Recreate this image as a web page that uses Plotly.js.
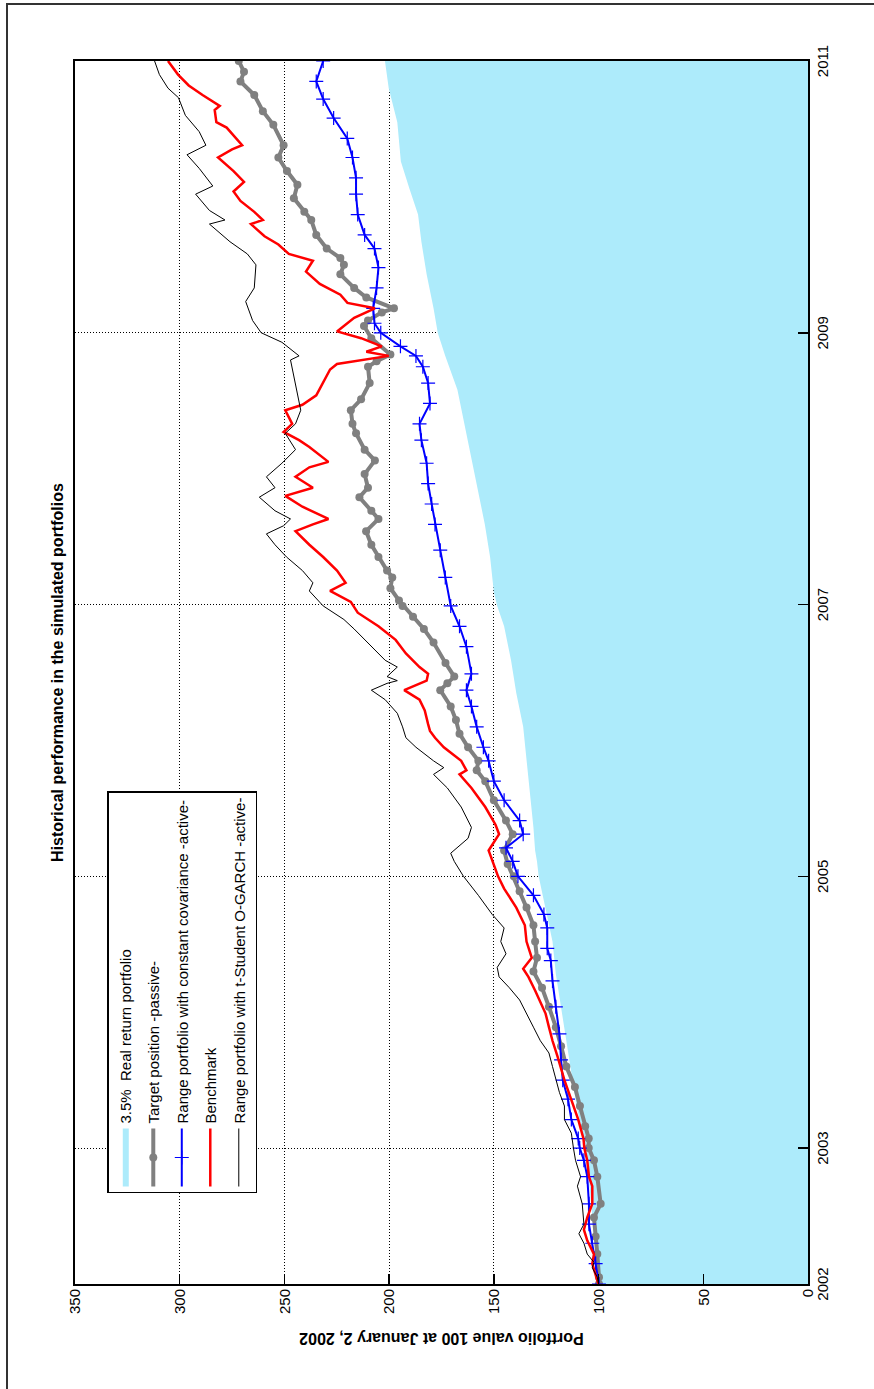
<!DOCTYPE html>
<html>
<head>
<meta charset="utf-8">
<script src="https://cdn.plot.ly/plotly-3.0.1.min.js"></script>
<style>
html,body{margin:0;padding:0;width:874px;height:1389px;overflow:hidden;background:#fff;}
#wrap{position:absolute;left:0;top:0;width:1389px;height:874px;overflow:hidden;transform-origin:0 0;transform:translate(0px,1389px) rotate(-90deg);background:#fff;}
#chart{position:absolute;left:0;top:0;width:1389px;height:874px;}
#frame{position:absolute;left:-10px;top:6px;width:1396px;height:890px;border:2px solid #333;box-sizing:border-box;pointer-events:none;}
</style>
</head>
<body>
<div id="wrap"><div id="chart"></div><div id="frame"></div></div>
<script>
// ---- data ----
const yearTicks = [2002, 2003, 2005, 2007, 2009, 2011];
const valueTicks = [0, 50, 100, 150, 200, 250, 300, 350];

const seriesNames = [
  "3.5%\u00a0 Real return portfolio",
  "Target position -passive-",
  "Range portfolio with constant covariance -active-",
  "Benchmark",
  "Range portfolio with t-Student O-GARCH -active-"
];

const realYears = [2002.0, 2002.5, 2003.0, 2003.31, 2003.55, 2003.79, 2004.04, 2004.28, 2004.52, 2004.77, 2005.0, 2005.11, 2005.19, 2005.36, 2005.6, 2005.85, 2006.1, 2006.35, 2006.59, 2006.84, 2006.99, 2007.09, 2007.35, 2007.59, 2007.84, 2008.09, 2008.33, 2008.58, 2008.83, 2009.0, 2009.18, 2009.43, 2009.67, 2009.87, 2010.06, 2010.26, 2010.55, 2010.8, 2011.0];
const realValues = [100, 103, 106, 110.5, 113, 115.4, 117.9, 120.4, 122, 125.3, 128.6, 129.4, 130.3, 131.1, 132.7, 134.4, 136, 139.3, 141.8, 145.1, 148.4, 150, 151.8, 154.3, 157.6, 160.9, 164.2, 167.4, 173.2, 176.8, 178.8, 182.1, 184.6, 186.2, 190.3, 194.4, 196.1, 200.2, 202];

const passiveYears = [2002.00, 2002.05, 2002.22, 2002.35, 2002.49, 2002.59, 2002.79, 2002.91, 2003.00, 2003.07, 2003.16, 2003.31, 2003.45, 2003.60, 2003.75, 2003.89, 2004.04, 2004.18, 2004.30, 2004.40, 2004.52, 2004.64, 2004.77, 2004.89, 2005.00, 2005.09, 2005.19, 2005.31, 2005.41, 2005.56, 2005.70, 2005.78, 2005.85, 2005.95, 2006.05, 2006.15, 2006.25, 2006.37, 2006.42, 2006.47, 2006.57, 2006.72, 2006.82, 2006.91, 2006.99, 2007.03, 2007.12, 2007.20, 2007.25, 2007.35, 2007.44, 2007.54, 2007.63, 2007.69, 2007.79, 2007.86, 2007.96, 2008.06, 2008.14, 2008.26, 2008.33, 2008.43, 2008.51, 2008.63, 2008.75, 2008.79, 2008.84, 2008.96, 2009.05, 2009.09, 2009.15, 2009.18, 2009.26, 2009.33, 2009.43, 2009.50, 2009.55, 2009.62, 2009.72, 2009.83, 2009.89, 2009.99, 2010.09, 2010.19, 2010.29, 2010.38, 2010.53, 2010.63, 2010.75, 2010.85, 2010.92, 2011.00];
const passiveValues = [99.8, 99.8, 100.6, 101.4, 102.2, 99, 100.6, 102.2, 104.7, 104.7, 106.4, 108.9, 111.3, 115.4, 117.9, 120.4, 123.7, 127, 131.1, 129.4, 130.3, 131.1, 134.4, 137.7, 140.5, 143.4, 145.1, 141, 144.2, 150, 154.1, 158.2, 157.4, 162.3, 166.4, 168.1, 170.6, 175.6, 172.2, 168.9, 173.1, 178.8, 183.4, 188.6, 193.6, 195.3, 199.4, 198.5, 201, 205.1, 208.5, 211, 205.1, 208.5, 214.2, 210.1, 211.7, 206.8, 211.7, 215.8, 217.5, 218.3, 213.4, 209.3, 210.1, 206, 199.4, 208.5, 212, 210.1, 203.5, 197.7, 210.9, 216.7, 223.3, 221.6, 223.3, 229.8, 234.8, 237.2, 240.5, 245.5, 243.8, 248.8, 252.9, 250.4, 255.3, 260.3, 264.4, 271, 269.3, 271.8];

const constCovYears = [2002.00, 2002.15, 2002.30, 2002.44, 2002.59, 2002.79, 2002.91, 2003.00, 2003.07, 2003.21, 2003.36, 2003.50, 2003.65, 2003.84, 2004.04, 2004.23, 2004.38, 2004.47, 2004.62, 2004.72, 2004.86, 2005.00, 2005.11, 2005.21, 2005.31, 2005.41, 2005.56, 2005.70, 2005.85, 2005.95, 2006.10, 2006.25, 2006.37, 2006.49, 2006.69, 2006.84, 2006.99, 2007.20, 2007.40, 2007.59, 2007.74, 2007.89, 2008.04, 2008.21, 2008.33, 2008.48, 2008.63, 2008.75, 2008.83, 2008.90, 2009.00, 2009.07, 2009.18, 2009.33, 2009.48, 2009.62, 2009.72, 2009.87, 2010.02, 2010.14, 2010.29, 2010.43, 2010.58, 2010.72, 2010.85, 2011.00];
const constCovValues = [99.8, 101.4, 103, 104.6, 104.6, 105.4, 107, 109, 109.7, 113, 114.6, 117.1, 117.9, 118.7, 120.4, 122, 122.8, 124.5, 124.5, 126.1, 131.1, 138.5, 141, 144.2, 136, 137.7, 145.1, 150, 152.5, 155, 158.2, 160.7, 163.1, 160.7, 163.1, 166.4, 170.6, 173.2, 175.6, 178.1, 179.7, 181.4, 182.1, 184.6, 185.5, 180.5, 181.4, 183.9, 187.2, 194.6, 204, 207, 207.6, 206, 205.1, 207, 211.7, 215, 215.8, 215.8, 217.5, 220, 226.5, 231.5, 234.8, 231.5];

const benchYears = [2002.00, 2002.07, 2002.15, 2002.22, 2002.32, 2002.40, 2002.49, 2002.59, 2002.72, 2002.79, 2002.91, 2003.00, 2003.07, 2003.21, 2003.36, 2003.50, 2003.67, 2003.79, 2003.89, 2003.99, 2004.16, 2004.26, 2004.32, 2004.40, 2004.52, 2004.64, 2004.77, 2004.91, 2005.00, 2005.11, 2005.19, 2005.31, 2005.38, 2005.51, 2005.65, 2005.75, 2005.78, 2005.85, 2005.95, 2006.02, 2006.07, 2006.12, 2006.17, 2006.22, 2006.30, 2006.37, 2006.44, 2006.49, 2006.54, 2006.64, 2006.74, 2006.84, 2006.94, 2007.02, 2007.10, 2007.16, 2007.25, 2007.35, 2007.44, 2007.54, 2007.59, 2007.63, 2007.72, 2007.80, 2007.86, 2007.94, 2008.01, 2008.05, 2008.16, 2008.21, 2008.27, 2008.33, 2008.43, 2008.47, 2008.54, 2008.63, 2008.73, 2008.77, 2008.83, 2008.86, 2008.90, 2008.96, 2009.01, 2009.11, 2009.18, 2009.22, 2009.28, 2009.36, 2009.45, 2009.53, 2009.58, 2009.65, 2009.71, 2009.80, 2009.83, 2009.89, 2009.97, 2010.04, 2010.11, 2010.19, 2010.29, 2010.35, 2010.38, 2010.51, 2010.55, 2010.64, 2010.67, 2010.75, 2010.82, 2010.90, 2011.00];
const benchValues = [100.1, 101.4, 103, 102.2, 105.4, 107, 105.4, 103, 103, 104.6, 105.4, 106.8, 107.2, 109.7, 113, 116.3, 119.5, 122, 123.7, 125.3, 130.3, 133.5, 136, 131.9, 134.4, 135.2, 139.3, 145.1, 148, 150.8, 152.5, 147.5, 149.2, 154.1, 160.7, 166.4, 163.1, 165.6, 173.9, 178.1, 180.5, 181.4, 182.1, 183, 185.5, 192.8, 182.1, 181.4, 185.5, 192, 196.9, 205.1, 215, 218.3, 228.2, 220.8, 224.9, 231.5, 238.1, 244.7, 236.4, 229, 241.4, 249.6, 236.4, 244.7, 238.1, 229, 238.1, 243, 250.4, 246.3, 249.6, 241.4, 234.8, 231.5, 228.2, 224.9, 200.2, 210.9, 203.5, 213.4, 224.9, 216.7, 206.8, 219.9, 223.3, 233.1, 239.7, 236.4, 247.9, 252.9, 259.5, 266, 260.3, 264.4, 271, 274.3, 269.3, 274.3, 281.7, 275, 270.2, 277.6, 282.5, 283.3, 280.9, 289.1, 295.7, 300.8, 305.6];

const garchYears = [2002.00, 2002.05, 2002.12, 2002.16, 2002.22, 2002.30, 2002.37, 2002.44, 2002.59, 2002.72, 2002.79, 2002.91, 2003.00, 2003.11, 2003.21, 2003.31, 2003.41, 2003.50, 2003.60, 2003.70, 2003.79, 2003.89, 2003.99, 2004.09, 2004.18, 2004.26, 2004.33, 2004.43, 2004.52, 2004.62, 2004.72, 2004.86, 2005.00, 2005.11, 2005.17, 2005.28, 2005.36, 2005.51, 2005.65, 2005.75, 2005.80, 2005.85, 2005.95, 2006.02, 2006.10, 2006.20, 2006.30, 2006.37, 2006.42, 2006.44, 2006.47, 2006.54, 2006.59, 2006.72, 2006.82, 2006.89, 2006.99, 2007.10, 2007.16, 2007.25, 2007.35, 2007.44, 2007.52, 2007.58, 2007.63, 2007.69, 2007.79, 2007.86, 2007.94, 2008.04, 2008.14, 2008.26, 2008.33, 2008.43, 2008.63, 2008.80, 2008.83, 2008.93, 2009.00, 2009.09, 2009.23, 2009.33, 2009.50, 2009.58, 2009.67, 2009.80, 2009.83, 2009.90, 2010.02, 2010.08, 2010.21, 2010.31, 2010.38, 2010.48, 2010.60, 2010.73, 2010.80, 2010.90, 2011.00];
const garchValues = [100, 100.6, 103, 102.2, 105.4, 107, 109.4, 107, 107.8, 110.1, 108.6, 111, 112, 113, 116.3, 116.3, 118.7, 120.4, 122, 123.7, 127.8, 131.1, 134.4, 137.7, 142.6, 147.5, 148.4, 144.2, 146.7, 145.1, 150.8, 157.4, 164.5, 168.9, 170.6, 162.3, 160.7, 165.6, 172.2, 178.8, 173.9, 178.8, 187.2, 192, 193.6, 196.1, 201.9, 208.5, 201, 196.1, 201, 196.1, 201.9, 210.1, 216.7, 221.6, 231.5, 238.1, 236.4, 241.4, 249, 254.5, 258.6, 250.4, 247.1, 254.5, 262, 254.5, 258.6, 251.2, 244.7, 249.6, 244.7, 242.2, 244.7, 247.1, 243, 251.2, 261.1, 265.2, 268.5, 264.4, 263.6, 267.7, 276, 285.8, 278.4, 285.8, 292.4, 284.2, 290.7, 296.5, 287.5, 290.7, 297.3, 300.6, 305.6, 309.7, 312];

// ---- chart ----
const FONT = "Liberation Sans, Arial, Helvetica, sans-serif";
const traces = [
  {x: realYears, y: realValues, name: seriesNames[0], type: "scatter", mode: "lines",
   fill: "tozeroy", fillcolor: "#ADEBFB", line: {width: 0, color: "#ADEBFB"}, legendgroup: "g1"},
  {x: passiveYears, y: passiveValues, name: seriesNames[1], type: "scatter", mode: "lines+markers",
   line: {color: "#808080", width: 4}, marker: {color: "#808080", size: 8, symbol: "circle"}, legendgroup: "g2"},
  {x: constCovYears, y: constCovValues, name: seriesNames[2], type: "scatter", mode: "lines+markers",
   line: {color: "#0000FF", width: 2}, marker: {color: "#0000FF", size: 10, symbol: "cross-thin-open", line: {color: "#0000FF", width: 1.2}}, legendgroup: "g3"},
  {x: benchYears, y: benchValues, name: seriesNames[3], type: "scatter", mode: "lines",
   line: {color: "#FF0000", width: 2.5}, legendgroup: "g4"},
  {x: garchYears, y: garchValues, name: seriesNames[4], type: "scatter", mode: "lines",
   line: {color: "#000000", width: 1}, legendgroup: "g5"}
];

const layout = {
  width: 1389, height: 874,
  margin: {l: 105, r: 61, t: 75, b: 66},
  paper_bgcolor: "rgba(0,0,0,0)", plot_bgcolor: "#ffffff",
  font: {family: FONT, size: 15, color: "#000"},
  title: {text: "<b>Historical performance in the simulated portfolios</b>",
          font: {family: FONT, size: 16, color: "#000"},
          x: 0.5, xref: "paper", y: 1 - 57/874, yref: "container", yanchor: "middle"},
  showlegend: true,
  legend: {x: 0.0744, y: 0.9563, xanchor: "left", yanchor: "top",
           bgcolor: "#ffffff", bordercolor: "#000", borderwidth: 1.5,
           font: {family: FONT, size: 15, color: "#000"}, tracegroupgap: 6, itemwidth: 58},
  xaxis: {range: [2002, 2011], tickmode: "array", tickvals: yearTicks, ticktext: yearTicks.map(String),
          showgrid: true, gridcolor: "#000", griddash: "1px,2px", gridwidth: 1,
          showline: true, linecolor: "#000", linewidth: 2, mirror: true,
          ticks: "inside", ticklen: 10, tickcolor: "#000", tickwidth: 1.5,
          tickfont: {family: FONT, size: 15, color: "#000"}, zeroline: false},
  yaxis: {range: [0, 350], tickmode: "array", tickvals: valueTicks, ticktext: valueTicks.map(String),
          showgrid: true, gridcolor: "#000", griddash: "1px,2px", gridwidth: 1,
          showline: true, linecolor: "#000", linewidth: 2, mirror: true,
          ticks: "inside", ticklen: 10, tickcolor: "#000", tickwidth: 1.5,
          tickfont: {family: FONT, size: 15, color: "#000"}, zeroline: false,
          title: {text: "<b>Portfolio value 100 at January 2, 2002</b>", font: {family: FONT, size: 16, color: "#000"}, standoff: 14}}
};

Plotly.newPlot("chart", traces, layout, {displayModeBar: false, staticPlot: true});
</script>
</body>
</html>
